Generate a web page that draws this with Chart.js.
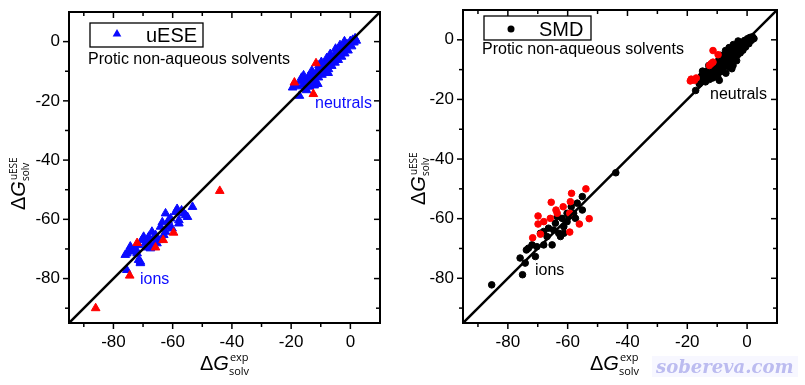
<!DOCTYPE html>
<html>
<head>
<meta charset="utf-8">
<script src="https://cdn.jsdelivr.net/npm/chart.js@4.4.0/dist/chart.umd.min.js"></script>
<style>
  html, body { margin: 0; padding: 0; background: #fff; }
  #wrap { position: relative; width: 805px; height: 385px; overflow: hidden; }
  .box { position: absolute; top: 0; height: 385px; }
  #mark { position: absolute; left: 652px; top: 356px; padding: 0 4px; font: italic bold 18px 'DejaVu Serif'; color: #bcbcf0; background: rgba(240,240,255,0.5); }
</style>
</head>
<body>
<div id="wrap">
  <div class="box" style="left:0;width:400px"><canvas id="leftChart"></canvas></div>
  <div class="box" style="left:400px;width:405px"><canvas id="rightChart"></canvas></div>
  <div id="mark">sobereva.com</div>
</div>
<script>
// axes shared by both panels
const axisMin = -95;
const axisMax = 10;
const majorTicks = [-80, -60, -40, -20, 0];
const minorTicks = [-90, -70, -50, -30, -10];
const diagonal = [[-95, -95], [10, 10]];

// uESE panel (triangles): [exp, calc]
const ueseNeutrals = [
  [-19.5, -15.5], [-18.8, -14.2], [-17.9, -15.1], [-17.2, -18.3], [-16.8, -13.4], [-16.0, -14.6],
  [-15.5, -12.8], [-15.1, -15.9], [-14.6, -13.7], [-14.2, -11.9], [-13.8, -15.2], [-13.3, -12.6],
  [-12.9, -10.8], [-12.5, -13.9], [-12.0, -11.4], [-11.6, -13.7], [-11.2, -9.8], [-10.8, -12.1],
  [-10.4, -10.3], [-10.0, -8.6], [-9.6, -11.2], [-9.2, -9.1], [-8.8, -7.4], [-8.5, -10.0],
  [-8.1, -8.2], [-7.7, -6.5], [-7.4, -9.3], [-7.0, -7.3], [-6.6, -5.6], [-6.3, -8.2],
  [-5.9, -6.4], [-5.5, -4.7], [-5.2, -7.1], [-4.8, -5.5], [-4.4, -3.8], [-4.1, -6.2],
  [-3.7, -4.4], [-3.3, -2.9], [-3.0, -5.1], [-2.6, -3.4], [-2.2, -1.9], [-1.9, -4.0],
  [-1.5, -2.3], [-1.1, -0.9], [-0.8, -3.0], [-0.4, -1.2], [0.0, 0.2], [0.4, -1.6],
  [0.8, 0.6], [1.2, -0.3], [1.6, 1.1], [2.0, 0.3], [-12.2, -14.8], [-11.0, -14.3],
  [-14.8, -16.4], [-6.8, -4.2], [-9.8, -6.9], [-3.5, -1.2], [-16.5, -12.2], [-13.0, -9.8],
  [-8.0, -5.6], [-5.0, -2.4], [-10.6, -8.0], [-2.0, 0.1], [-15.8, -11.4], [-7.5, -10.6]
];
const ueseIons = [
  [-62.4, -58.0], [-59.0, -57.5], [-53.3, -55.8], [-56.2, -58.0], [-55.0, -59.2], [-57.9, -60.3],
  [-57.9, -61.4], [-60.7, -59.7], [-61.3, -62.5], [-64.1, -62.5], [-63.0, -65.3], [-65.8, -65.3],
  [-67.0, -64.2], [-68.1, -65.9], [-69.8, -65.9], [-70.4, -67.0], [-69.2, -68.1], [-68.1, -67.6],
  [-71.5, -68.7], [-72.6, -69.8], [-73.8, -70.4], [-74.4, -70.9], [-75.5, -71.5], [-76.0, -72.0],
  [-71.5, -73.7], [-70.9, -74.8], [-75.5, -77.1], [-60.2, -63.1], [-62.4, -64.2], [-64.7, -67.0],
  [-65.3, -68.1], [-66.4, -68.7], [-67.5, -69.8], [-55.6, -58.6], [-74.3, -69.2], [-70.9, -74.3],
  [-58.5, -56.5], [-61.5, -60.5], [-66.5, -66.5], [-69.0, -69.5], [-72.0, -71.5], [-63.5, -61.0],
  [-57.0, -57.0]
];
const ueseOutliers = [
  [-86.0, -90.0], [-74.5, -79.0], [-72.0, -68.0], [-65.8, -69.5], [-63.2, -67.0], [-59.7, -64.5],
  [-44.1, -50.4], [-18.9, -13.8], [-11.6, -7.3], [-12.5, -17.7]
];

// SMD panel (circles): [exp, calc]
const smdPoints = [
  [-85.4, -82.2], [-75.1, -78.8], [-74.2, -74.9], [-75.9, -73.2], [-73.8, -70.5], [-70.8, -72.7],
  [-70.3, -69.4], [-71.9, -68.8], [-68.0, -68.8], [-66.9, -66.0], [-68.0, -64.3], [-65.2, -68.8],
  [-66.4, -63.2], [-64.1, -61.5], [-63.0, -64.9], [-62.4, -66.0], [-61.3, -62.7], [-60.2, -61.0],
  [-61.9, -59.9], [-59.6, -59.3], [-58.0, -58.2], [-58.8, -56.0], [-57.4, -59.9], [-55.1, -57.1],
  [-55.1, -52.6], [-56.8, -54.8], [-43.9, -44.6], [-69.1, -64.9], [-63.5, -59.3], [-60.2, -58.2],
  [-61.3, -64.9], [-64.7, -63.8], [-73.1, -69.9],
  [-17.2, -17.0], [-16.0, -14.8], [-15.3, -12.2], [-14.8, -13.5], [-14.2, -11.0], [-13.9, -14.1],
  [-13.5, -12.4], [-13.0, -10.2], [-12.6, -13.3], [-12.2, -11.6], [-11.8, -9.3], [-11.5, -12.8],
  [-11.0, -10.5], [-10.7, -8.2], [-10.3, -11.9], [-10.0, -9.4], [-9.6, -7.0], [-9.3, -13.6],
  [-9.0, -10.8], [-8.7, -8.1], [-8.4, -6.0], [-8.0, -9.6], [-7.7, -7.4], [-7.4, -5.2],
  [-7.1, -11.2], [-6.8, -8.7], [-6.5, -6.3], [-6.2, -4.1], [-5.9, -9.2], [-5.6, -7.0],
  [-5.3, -5.0], [-5.0, -3.0], [-4.7, -8.6], [-4.4, -6.1], [-4.1, -4.0], [-3.8, -2.2],
  [-3.5, -7.0], [-3.2, -5.1], [-2.9, -3.2], [-2.6, -1.3], [-2.3, -4.4], [-2.0, -2.6],
  [-1.7, -0.8], [-1.4, -3.5], [-1.1, -1.7], [-0.8, -0.2], [-0.5, -2.4], [-0.2, -0.9],
  [0.2, 0.4], [0.6, -1.3], [1.0, 0.8], [1.4, -0.2], [1.8, 1.0], [2.3, 0.4],
  [-6.0, -2.6], [-7.2, -3.6], [-4.6, -1.6], [-3.0, -0.4], [-8.8, -5.2], [-12.8, -8.6],
  [-14.9, -10.5], [-9.8, -12.6], [-5.1, -9.7]
];
const smdOutliers = [
  [-71.7, -66.4], [-69.1, -65.2], [-69.9, -59.1], [-69.9, -61.8], [-68.0, -61.0], [-65.8, -59.9],
  [-65.5, -54.5], [-63.9, -57.1], [-63.5, -58.2], [-61.5, -56.0], [-59.3, -58.2], [-59.1, -54.3],
  [-58.7, -51.5], [-53.9, -50.0], [-52.8, -60.0], [-56.1, -61.8], [-59.3, -64.5],
  [-18.7, -13.2], [-17.6, -13.6], [-19.0, -13.8], [-17.0, -12.8], [-11.4, -3.6], [-9.7, -5.0],
  [-11.4, -7.5], [-12.6, -8.6], [-12.0, -8.0]
];

const BLUE = '#0a0aff';
const RED = '#ff0000';
const SANS = '"Liberation Sans", Arial, sans-serif';

const toXY = arr => arr.map(p => ({ x: p[0], y: p[1] }));

function line(ctx, x1, y1, x2, y2) {
  ctx.beginPath();
  ctx.moveTo(x1, y1);
  ctx.lineTo(x2, y2);
  ctx.stroke();
}

// Origin-like frame, mirrored ticks, legend and axis titles
function decor(cfg) {
  return {
    id: 'decor',
    afterDraw(chart) {
      const { ctx, chartArea: a, scales } = chart;
      const xs = scales.x, ys = scales.y;
      ctx.save();
      ctx.strokeStyle = '#000';
      ctx.lineWidth = 1.5;
      const ticks = (vals, len) => vals.forEach(v => {
        const px = xs.getPixelForValue(v);
        line(ctx, px, a.bottom, px, a.bottom + len);
        line(ctx, px, a.top, px, a.top + len);
        const py = ys.getPixelForValue(v);
        line(ctx, a.left - len, py, a.left, py);
        line(ctx, a.right - len, py, a.right, py);
      });
      ticks(majorTicks, 6);
      ticks(minorTicks, 4);
      ctx.lineWidth = 2;
      ctx.strokeRect(a.left, a.top, a.right - a.left, a.bottom - a.top);

      // legend box
      const L = cfg.legend;
      ctx.lineWidth = 1.3;
      ctx.strokeRect(L.x, L.y, L.w, L.h);
      ctx.fillStyle = cfg.markColor;
      ctx.beginPath();
      if (cfg.markStyle === 'triangle') {
        const r = 5;
        ctx.moveTo(L.mx, L.my - r);
        ctx.lineTo(L.mx + r * 0.866, L.my + r * 0.5);
        ctx.lineTo(L.mx - r * 0.866, L.my + r * 0.5);
        ctx.closePath();
      } else {
        ctx.arc(L.mx, L.my, 3.5, 0, Math.PI * 2);
      }
      ctx.fill();
      ctx.fillStyle = '#000';
      ctx.textAlign = 'left';
      ctx.textBaseline = 'alphabetic';
      ctx.font = '20px ' + SANS;
      ctx.fillText(cfg.name, L.tx, L.ty);
      ctx.font = '16px ' + SANS;
      ctx.fillText('Protic non-aqueous solvents', cfg.sub.x, cfg.sub.y);

      // group labels
      ctx.fillStyle = cfg.noteColor;
      ctx.fillText('neutrals', cfg.neutrals.x, cfg.neutrals.y);
      ctx.fillText('ions', cfg.ions.x, cfg.ions.y);

      // axis titles
      ctx.fillStyle = '#000';
      const title = (x, base, sup, small, supOff, subOff) => {
        ctx.font = '20px ' + SANS;
        ctx.fillText('\u0394', x, base);
        let w = ctx.measureText('\u0394').width;
        ctx.font = 'italic 20px ' + SANS;
        ctx.fillText('G', x + w, base);
        w += ctx.measureText('G').width;
        ctx.font = small + 'px "Open Sans", sans-serif';
        ctx.fillText(sup, x + w + 1, base - supOff);
        ctx.fillText('solv', x + w, base + subOff);
      };
      title(cfg.xTitle.x, cfg.xTitle.y, 'exp', 11, 9, 5);
      ctx.save();
      ctx.translate(cfg.yTitle.x, cfg.yTitle.y);
      ctx.rotate(-Math.PI / 2);
      title(0, 0, 'uESE', 10, 8, 4);
      ctx.restore();
      ctx.restore();
    }
  };
}

function makeChart(id, pad, yWidth, sets, cfg) {
  const datasets = [{
    type: 'line',
    data: toXY(diagonal),
    borderColor: '#000',
    borderWidth: 2.5,
    pointRadius: 0,
    showLine: true
  }].concat(sets);
  return new Chart(document.getElementById(id), {
    type: 'scatter',
    data: { datasets: datasets },
    options: {
      responsive: true,
      maintainAspectRatio: false,
      animation: false,
      layout: { padding: pad },
      plugins: { legend: { display: false }, tooltip: { enabled: false } },
      scales: {
        x: {
          type: 'linear', min: axisMin, max: axisMax,
          grid: { display: false, drawTicks: false },
          border: { display: false },
          ticks: { font: { family: SANS, size: 17 }, color: '#000', padding: 9, maxRotation: 0 },
          afterBuildTicks: s => { s.ticks = majorTicks.map(v => ({ value: v })); },
          afterFit: s => { s.height = 62; s.paddingLeft = 0; s.paddingRight = 0; }
        },
        y: {
          type: 'linear', min: axisMin, max: axisMax,
          grid: { display: false, drawTicks: false },
          border: { display: false },
          ticks: { font: { family: SANS, size: 17 }, color: '#000', padding: 9 },
          afterBuildTicks: s => { s.ticks = majorTicks.map(v => ({ value: v })); },
          afterFit: s => { s.width = yWidth; s.paddingTop = 0; s.paddingBottom = 0; }
        }
      }
    },
    plugins: [decor(cfg)]
  });
}

makeChart('leftChart', { left: 0, top: 12, right: 20, bottom: 0 }, 69, [
  { data: toXY(ueseOutliers), pointStyle: 'triangle', pointRadius: 5, backgroundColor: RED, borderColor: RED, borderWidth: 1 },
  { data: toXY(ueseNeutrals.concat(ueseIons)), pointStyle: 'triangle', pointRadius: 5, backgroundColor: BLUE, borderColor: BLUE, borderWidth: 1 }
], {
  name: 'uESE', markStyle: 'triangle', markColor: BLUE,
  legend: { x: 90, y: 23, w: 113, h: 24, mx: 117, my: 34, tx: 146, ty: 42 },
  sub: { x: 88, y: 64 },
  noteColor: BLUE,
  neutrals: { x: 315, y: 108 },
  ions: { x: 140, y: 284 },
  xTitle: { x: 200, y: 370 },
  yTitle: { x: 25, y: 210 }
});

makeChart('rightChart', { left: 0, top: 10, right: 28, bottom: 0 }, 63, [
  { data: toXY(smdOutliers), pointRadius: 3.3, backgroundColor: RED, borderColor: RED, borderWidth: 1 },
  { data: toXY(smdPoints), pointRadius: 3.3, backgroundColor: '#000', borderColor: '#000', borderWidth: 1 }
], {
  name: 'SMD', markStyle: 'circle', markColor: '#000',
  legend: { x: 84, y: 16, w: 107, h: 24, mx: 111, my: 29, tx: 139, ty: 36 },
  sub: { x: 82, y: 54 },
  noteColor: '#000',
  neutrals: { x: 310, y: 99 },
  ions: { x: 135, y: 275 },
  xTitle: { x: 190, y: 370 },
  yTitle: { x: 25, y: 205 }
});
</script>
</body>
</html>
